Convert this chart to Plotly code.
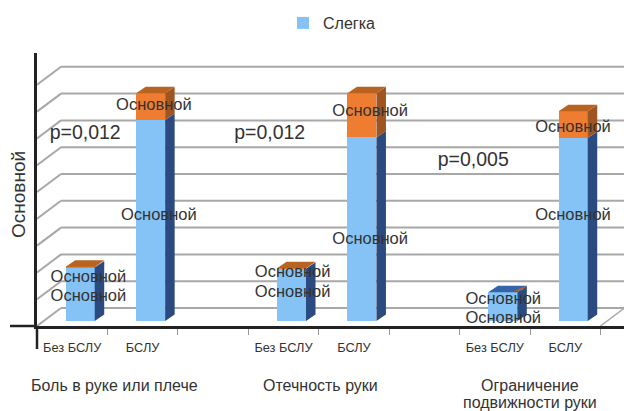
import plotly.graph_objects as go

# Grouped slots on the category axis: slots 3 and 6 stay empty as separators
slot_positions = [0.5, 1.5, 3.5, 4.5, 6.5, 7.5]
bar_labels = ["Без БСЛУ", "БСЛУ", "Без БСЛУ", "БСЛУ", "Без БСЛУ", "БСЛУ"]
blue_values = [20, 75, 19.5, 68.5, 10.7, 68.3]
orange_values = [0.2, 10, 0.2, 16.5, 0, 10]
blue_label_levels = [10.7, 41, 12.5, 32, 2.8, 41]
orange_label_levels = [17.8, 82, 20, 79.9, 9.6, 74]
blue_label_x = [0.73, 1.73, 3.63, 4.73, 6.62, 7.61]
orange_label_x = [0.73, 1.66, 3.63, 4.73, 6.62, 7.61]
group_lines = ["Боль в руке или плече", "Отечность руки", "Ограничение", "подвижности руки"]
group_line_x = [1.107, 4.025, 7.0, 7.0]
group_line_px = [385, 385, 385, 403]
p_values = ["p=0,012", "p=0,012", "p=0,005"]
p_x = [0.18, 2.8, 5.69]
p_levels = [71.6, 71.6, 61.6]
grid_levels = list(range(0, 100, 10))

# Pixel scale of the plot area
WIDTH, HEIGHT = 624, 411
LEFT, TOP, BOTTOM = 37, 53, 85
PX_X = 70.43
PX_Y = 2.68
PLOT_W = WIDTH - LEFT
PLOT_H = HEIGHT - BOTTOM - TOP
AXIS_PX = TOP + PLOT_H
x_max = PLOT_W / PX_X
y_max = PLOT_H / PX_Y

# Oblique projection used for the floor and the bars
WALL_DX, WALL_DY = 24 / PX_X, 18 / PX_Y
BAR_DX, BAR_DY = 9.5 / PX_X, 6.5 / PX_Y
BAR_W = 29 / PX_X
BAR_SHIFT = 8 / PX_X
BAR_BASE = 5 / PX_Y

BLUE, BLUE_SIDE, BLUE_TOP = "#85C3F6", "#2A4A80", "#3565A8"
ORANGE, ORANGE_SIDE, ORANGE_TOP = "#EE7D31", "#9E5522", "#B8631F"
GRID = "#A8A8A8"
TEXT = "#333333"
FONT = "Liberation Sans"

bar_x = [s + BAR_SHIFT for s in slot_positions]
orange_base = [BAR_BASE + b for b in blue_values]

fig = go.Figure()
fig.add_bar(x=bar_x, y=blue_values, base=BAR_BASE, width=BAR_W, marker=dict(color=BLUE, line_width=0),
            name="Слегка", showlegend=True)
fig.add_bar(x=bar_x, y=orange_values, base=orange_base, width=BAR_W, marker=dict(color=ORANGE, line_width=0),
            showlegend=False)


def face(xs, ys, color):
    fig.add_scatter(x=xs, y=ys, mode="lines", fill="toself", fillcolor=color,
                    line=dict(width=0), hoverinfo="skip", showlegend=False)


# Side faces and top caps of the bars
for cx, blue, orange in zip(bar_x, blue_values, orange_values):
    right = cx + BAR_W / 2
    low, mid, high = BAR_BASE, BAR_BASE + blue, BAR_BASE + blue + orange
    face([right, right + BAR_DX, right + BAR_DX, right], [low, low + BAR_DY, mid + BAR_DY, mid], BLUE_SIDE)
    if orange:
        face([right, right + BAR_DX, right + BAR_DX, right], [mid, mid + BAR_DY, high + BAR_DY, high], ORANGE_SIDE)
    left = right - BAR_W
    face([left, right, right + BAR_DX, left + BAR_DX], [high, high, high + BAR_DY, high + BAR_DY],
         ORANGE_TOP if orange else BLUE_TOP)
    if not orange:
        # Empty orange segment collapses to a thin wedge on the cap
        face([right - 0.06, right + BAR_DX, right + 0.08], [high + 0.4, high + BAR_DY, high + BAR_DY * 0.35], ORANGE_TOP)

# Segment captions on each bar
fig.add_scatter(x=blue_label_x + orange_label_x, y=blue_label_levels + orange_label_levels,
                mode="text", text=["Основной"] * 12, textposition="middle center",
                textfont=dict(family=FONT, size=16.5, color=TEXT), hoverinfo="skip", showlegend=False)
# Significance captions
fig.add_scatter(x=p_x, y=p_levels, mode="text", text=p_values, textposition="middle right",
                textfont=dict(family=FONT, size=19.5, color=TEXT), hoverinfo="skip", showlegend=False)

# Back wall gridlines with their diagonals down to the front edge
shapes = []
line = dict(color=GRID, width=2)
for g in grid_levels:
    shapes.append(dict(type="line", xref="x", yref="y", x0=0, y0=g, x1=WALL_DX, y1=g + WALL_DY, line=line, layer="below"))
    shapes.append(dict(type="line", xref="x", yref="y", x0=WALL_DX, y0=g + WALL_DY, x1=x_max, y1=g + WALL_DY, line=line, layer="below"))
shapes.append(dict(type="line", xref="x", yref="y", x0=8, y0=0, x1=8 + WALL_DX, y1=WALL_DY,
                   line=dict(color=GRID, width=1.5), layer="below"))
# Axis stubs that run past the crossing point
axis_line = dict(color="#222222", width=2.5)
shapes.append(dict(type="line", xref="paper", yref="paper", x0=-27 / PLOT_W, y0=0, x1=0, y1=0, line=axis_line))
shapes.append(dict(type="line", xref="paper", yref="paper", x0=0, y0=-23 / PLOT_H, x1=0, y1=0, line=axis_line))

annotations = [
    dict(xref="x", yref="paper", x=c, y=-(py - AXIS_PX) / PLOT_H, text=t, showarrow=False, yanchor="middle",
         font=dict(family=FONT, size=16, color=TEXT), align="center")
    for c, t, py in zip(group_line_x, group_lines, group_line_px)
]
# Value axis title
annotations.append(dict(xref="paper", yref="paper", x=(19 - LEFT) / PLOT_W, y=(AXIS_PX - 195) / PLOT_H,
                        text="Основной", textangle=-90, showarrow=False, xanchor="center", yanchor="middle",
                        font=dict(family=FONT, size=19, color=TEXT)))

fig.update_layout(
    width=WIDTH, height=HEIGHT, margin=dict(l=LEFT, r=0, t=TOP, b=BOTTOM, pad=0),
    paper_bgcolor="white", plot_bgcolor="white", barmode="overlay", bargap=0,
    shapes=shapes, annotations=annotations,
    legend=dict(x=(283 - LEFT) / PLOT_W, y=1 + (TOP - 23) / PLOT_H, xanchor="left", yanchor="middle",
                bgcolor="rgba(0,0,0,0)", font=dict(family=FONT, size=16, color=TEXT), itemwidth=30),
    xaxis=dict(range=[0, x_max], tickmode="array", tickvals=slot_positions, ticktext=bar_labels, tickangle=0,
               tickfont=dict(family=FONT, size=12.8, color=TEXT), ticks="", ticklabelstandoff=8,
               showgrid=False, zeroline=False, showline=True, linecolor="#222222", linewidth=2.5,
               minor=dict(tickmode="array", tickvals=list(range(1, 9)), ticks="outside", ticklen=6,
                          tickcolor="#999999", tickwidth=1)),
    yaxis=dict(range=[0, y_max], showgrid=False, zeroline=False, showticklabels=False, ticks="",
               showline=True, linecolor="#222222", linewidth=2.5),
)

fig.write_html("out.html")
